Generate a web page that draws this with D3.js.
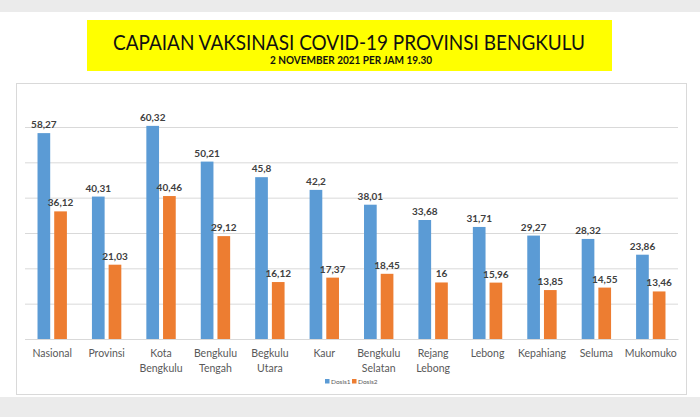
<!DOCTYPE html>
<html><head><meta charset="utf-8">
<script src="https://cdn.jsdelivr.net/npm/d3@7"></script>
<style>body{margin:0;background:#ebebeb;}svg{display:block;}</style>
</head><body>
<svg id="c" width="700" height="417"></svg>
<script>
const categories = [["Nasional"],["Provinsi"],["Kota","Bengkulu"],["Bengkulu","Tengah"],["Begkulu","Utara"],["Kaur"],["Bengkulu","Selatan"],["Rejang","Lebong"],["Lebong"],["Kepahiang"],["Seluma"],["Mukomuko"]];
const series = ["Dosis1","Dosis2"];
const dosis1 = [58.27,40.31,60.32,50.21,45.8,42.2,38.01,33.68,31.71,29.27,28.32,23.86];
const dosis2 = [36.12,21.03,40.46,29.12,16.12,17.37,18.45,16,15.96,13.85,14.55,13.46];
const yTicks = [0,10,20,30,40,50,60];
const colors = ["#5B9BD5","#ED7D31"];
const title = "CAPAIAN VAKSINASI COVID-19 PROVINSI BENGKULU";
const subtitle = "2 NOVEMBER 2021 PER JAM 19.30";

const svg = d3.select("#c");
svg.append("rect").attr("x",0).attr("y",12).attr("width",700).attr("height",385).attr("fill","#fff");
svg.append("rect").attr("x",87).attr("y",20).attr("width",525).attr("height",51).attr("fill","#ffff00");
svg.append("text").attr("x",349).attr("y",50).attr("text-anchor","middle")
  .attr("font-family","Lato, 'Open Sans', sans-serif").attr("font-size",21)
  .attr("textLength",472).attr("lengthAdjust","spacingAndGlyphs").attr("fill","#111").text(title);
svg.append("text").attr("x",351).attr("y",64).attr("text-anchor","middle")
  .attr("font-family","Lato, 'Open Sans', sans-serif").attr("font-size",10.5).attr("font-weight","bold")
  .attr("textLength",162).attr("lengthAdjust","spacingAndGlyphs").attr("fill","#111").text(subtitle);
svg.append("rect").attr("x",16.5).attr("y",83.5).attr("width",670).attr("height",311)
  .attr("fill","#fff").attr("stroke","#d9d9d9");

const names = categories.map(c=>c.join(" "));
const x = d3.scaleBand().domain(names).range([25,678]).paddingInner(0.46).paddingOuter(0.23);
const x1 = d3.scaleBand().domain(series).range([0,x.bandwidth()]).paddingInner(0.24);
const y = d3.scaleLinear().domain([0,60]).range([339,127]);

const grid = svg.append("g").attr("transform","translate(0,0)")
  .call(d3.axisLeft(y).tickValues(yTicks).tickSize(-653).tickFormat(""))
  .attr("transform","translate(25,0)");
grid.select(".domain").remove();
grid.selectAll(".tick line").attr("stroke","#d9d9d9");

const data = names.map((n,i)=>({n, vals:[dosis1[i],dosis2[i]]}));
const g = svg.selectAll(".grp").data(data).join("g").attr("transform",d=>`translate(${x(d.n)},0)`);
g.selectAll("rect").data(d=>d.vals.map((v,j)=>({s:series[j],v,j}))).join("rect")
  .attr("x",d=>x1(d.s)).attr("y",d=>y(d.v)).attr("width",x1.bandwidth()).attr("height",d=>y(0)-y(d.v))
  .attr("fill",d=>colors[d.j]);
g.selectAll("text").data(d=>d.vals.map((v,j)=>({s:series[j],v,j}))).join("text")
  .attr("x",d=>x1(d.s)+x1.bandwidth()/2).attr("y",d=>y(d.v)-5).attr("text-anchor","middle")
  .attr("font-family","Lato, 'Open Sans', sans-serif").attr("font-size",10).attr("font-weight","bold")
  .attr("fill","#404040").text(d=>String(d.v).replace(".",","));

const xa = svg.append("g").attr("transform","translate(0,339)").call(d3.axisBottom(x).tickSize(0).tickFormat(""));
xa.select(".domain").attr("stroke","#d9d9d9");
const lab = svg.selectAll(".cat").data(categories).join("text")
  .attr("x",(d,i)=>x(names[i])+x.bandwidth()/2).attr("y",357).attr("text-anchor","middle")
  .attr("font-family","Lato, 'Open Sans', sans-serif").attr("font-size",10.5).attr("fill","#595959");
lab.selectAll("tspan").data(d=>d).join("tspan").attr("x",function(){return this.parentNode.getAttribute("x");})
  .attr("dy",(d,i)=>i?15:0).text(d=>d);

const leg = svg.append("g");
series.forEach((s,i)=>{
  const lx = 325 + i*27;
  leg.append("rect").attr("x",lx).attr("y",379).attr("width",4.5).attr("height",4.5).attr("fill",colors[i]);
  leg.append("text").attr("x",lx+6).attr("y",384).attr("font-family","Lato, sans-serif").attr("font-size",6.5)
    .attr("fill","#595959").text(s);
});
</script>
</body></html>
